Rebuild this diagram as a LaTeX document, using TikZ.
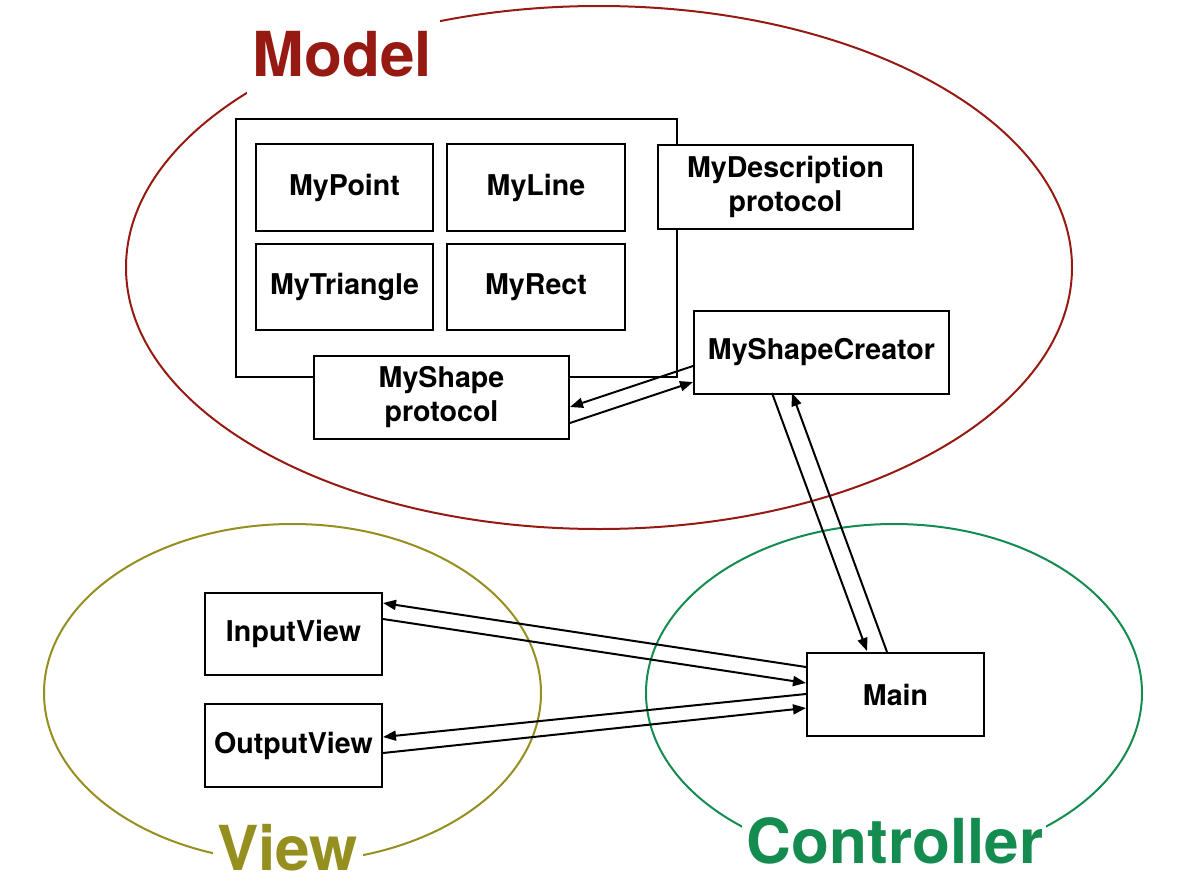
\documentclass[tikz,border=0pt]{standalone}
\usepackage{fontspec}
\setmainfont{TeX Gyre Heros}
\usetikzlibrary{arrows.meta}

\definecolor{modelred}{HTML}{961A12}
\definecolor{viewolive}{HTML}{948F1E}
\definecolor{ctrlgreen}{HTML}{148C50}

\tikzset{
  cls/.style={draw=black, line width=2pt, fill=white, anchor=north west,
    inner sep=0pt, align=center,
    font=\fontsize{28.6}{34}\selectfont\bfseries},
  flow/.style={line width=2pt, -{Triangle[length=13pt,width=10pt]}},
  region/.style={line width=2pt},
  title/.style={inner sep=0pt, font=\fontsize{62}{62}\selectfont\bfseries},
}

\begin{document}
\begin{tikzpicture}[x=1pt, y=-1pt]
\useasboundingbox (0,0) rectangle (1192,886);

% the three regions, each with a gap where its title sits
\draw[region, modelred] (599,267.5) ellipse [x radius=473, y radius=261.5];
\fill[white] (247,16) rectangle (440,97);
\draw[region, viewolive] (292.5,693) ellipse [x radius=248.5, y radius=169];
\fill[white] (213,812) rectangle (363,886);
\draw[region, ctrlgreen] (894,693) ellipse [x radius=248, y radius=169];
\fill[white] (742,800) rectangle (1046,886);

\node[title, text=modelred] (tmodel) at (342.5,54) {Model};
\node[title, text=viewolive] (tview) at (287.5,848) {View};
\node[title, text=ctrlgreen] (tctrl) at (895,840.5) {Controller};

% model classes
\node[cls, minimum width=441pt, minimum height=258pt] (shapes) at (235,118) {};
\node[cls, minimum width=177pt, minimum height=87pt] (point) at (255,143) {MyPoint};
\node[cls, minimum width=178pt, minimum height=87pt] (line) at (446,143) {MyLine};
\node[cls, minimum width=177pt, minimum height=86pt] (tri) at (255,243) {MyTriangle};
\node[cls, minimum width=178pt, minimum height=86pt] (rect) at (446,243) {MyRect};
\node[cls, minimum width=255pt, minimum height=84pt] (desc) at (657,144) {MyDescription\\protocol};
\node[cls, minimum width=255pt, minimum height=83pt] (creator) at (693,310) {MyShapeCreator};
\node[cls, minimum width=255pt, minimum height=83pt] (shape) at (313,355) {MyShape\\protocol};

% views and controller
\node[cls, minimum width=177pt, minimum height=82pt] (input) at (204,592) {InputView};
\node[cls, minimum width=177pt, minimum height=83pt] (output) at (204,703) {OutputView};
\node[cls, minimum width=177pt, minimum height=83pt] (main) at (806,652) {Main};

% connectors
\draw[flow] (creator.west |- 0,366) -- (shape.east |- 0,407);
\draw[flow] (shape.east |- 0,423) -- (creator.west |- 0,382);
\draw[flow] (772,393) -- (867,651);
\draw[flow] (887,652) -- (792,393);
\draw[flow] (main.west |- 0,667) -- (input.east |- 0,603);
\draw[flow] (input.east |- 0,619) -- (main.west |- 0,683);
\draw[flow] (main.west |- 0,694) -- (output.east |- 0,737);
\draw[flow] (output.east |- 0,753) -- (main.west |- 0,708);
\end{tikzpicture}
\end{document}
